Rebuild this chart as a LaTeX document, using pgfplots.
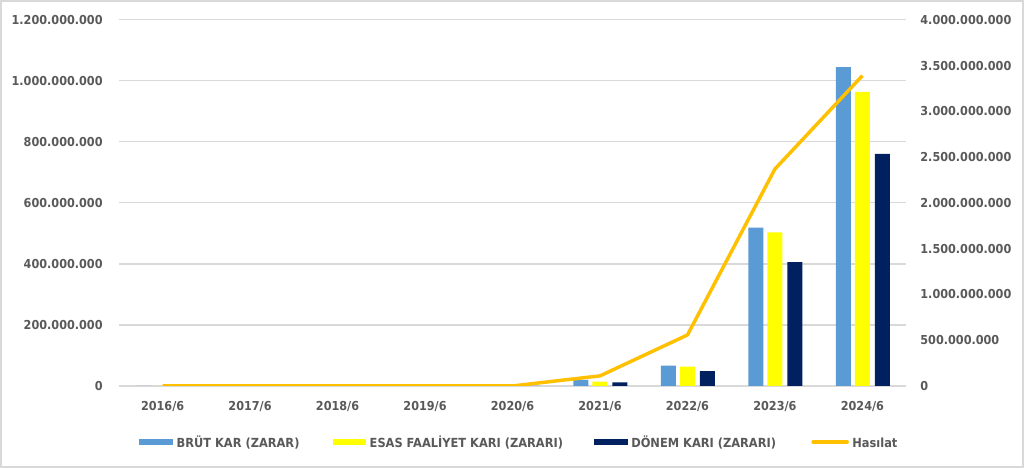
\documentclass[border=0pt]{standalone}
\usepackage{pgfplots}
\pgfplotsset{compat=1.18}
\usepackage{fontspec}
\setmainfont{DejaVu Sans}
\newfontfamily\tickfont[FakeStretch=0.91]{DejaVu Sans}
\definecolor{cblue}{HTML}{5B9BD5}
\definecolor{cyel}{HTML}{FFFF00}
\definecolor{cnavy}{HTML}{002060}
\definecolor{cgold}{HTML}{FFC000}
\definecolor{ctext}{HTML}{595959}
\definecolor{cgrid}{HTML}{D9D9D9}
\begin{document}
\begin{tikzpicture}
\draw[cgrid,line width=1.2pt] (0.75pt,0.75pt) rectangle (767.25pt,350.25pt);
\pgfplotsset{
  mybase/.style={
    scale only axis, width=590.25pt, height=274.5pt,
    at={(89.25pt,61.5pt)}, anchor=south west,
    xmin=-0.5, xmax=8.5,
    ymin=0,
    scaled y ticks=false,
    major tick length=0pt,
    tick style={draw=none},
    axis line style={draw=none},
    /pgf/number format/assume math mode=true,
    ticklabel style={font=\tickfont\bfseries\fontsize{9.25pt}{11pt}\selectfont, text=ctext},
    yticklabel={\pgfmathprintnumber[fixed,precision=0,1000 sep={.}]{\tick}},
  }
}
\begin{axis}[mybase,
  ymax=1.2e9, ytick={0,200000000,400000000,600000000,800000000,1000000000,1200000000},
  ymajorgrids, grid style={cgrid, line width=0.9pt},
  xtick={0,...,8},
  xticklabels={2016/6,2017/6,2018/6,2019/6,2020/6,2021/6,2022/6,2023/6,2024/6},
  xticklabel style={anchor=north, inner sep=0pt, yshift=-11pt},
  yticklabel style={anchor=east, inner sep=0pt, xshift=-12pt},
]
\addplot[ybar, bar width=11.25pt, bar shift=-14.25pt, fill=cblue, draw=none]
  coordinates {(0,0) (1,0) (2,0) (3,0) (4,0) (5,20000000) (6,67000000) (7,519000000) (8,1045000000)};
\addplot[ybar, bar width=11.25pt, bar shift=0pt, fill=cyel, draw=none]
  coordinates {(0,0) (1,0) (2,0) (3,0) (4,0) (5,14000000) (6,63000000) (7,503000000) (8,964000000)};
\addplot[ybar, bar width=11.25pt, bar shift=15pt, fill=cnavy, draw=none]
  coordinates {(0,0) (1,0) (2,0) (3,0) (4,0) (5,12000000) (6,49000000) (7,406000000) (8,761000000)};
\end{axis}
\begin{axis}[mybase,
  ymax=4e9, ytick={0,500000000,1000000000,1500000000,2000000000,2500000000,3000000000,3500000000,4000000000},
  axis y line*=right, axis x line=none,
  xtick=\empty,
  yticklabel style={anchor=west, inner sep=0pt, xshift=10.5pt},
]
\addplot[cgold, line width=2.6pt, line join=round]
  coordinates {(0,0) (1,0) (2,0) (3,0) (4,0) (5,110000000) (6,557000000) (7,2370000000) (8,3390000000)};
\end{axis}
% legend
\begin{scope}[x=0.75pt,y=0.75pt,every node/.style={anchor=base west, inner sep=0pt, text=ctext, font=\tickfont\bfseries\fontsize{9.4pt}{11pt}\selectfont}]
\fill[cblue] (139,23.3) rectangle (173,28.7);
\node at (176.5,20.7) {BRÜT KAR (ZARAR)};
\fill[cyel] (333,23.3) rectangle (366,28.7);
\node at (369.5,20.7) {ESAS FAALİYET KARI (ZARARI)};
\fill[cnavy] (594,23.3) rectangle (628,28.7);
\node at (631,20.7) {DÖNEM KARI (ZARARI)};
\draw[cgold, line width=2.6pt, line cap=round] (813,26) -- (847,26);
\node at (852,20.7) {Hasılat};
\end{scope}
\end{tikzpicture}
\end{document}
